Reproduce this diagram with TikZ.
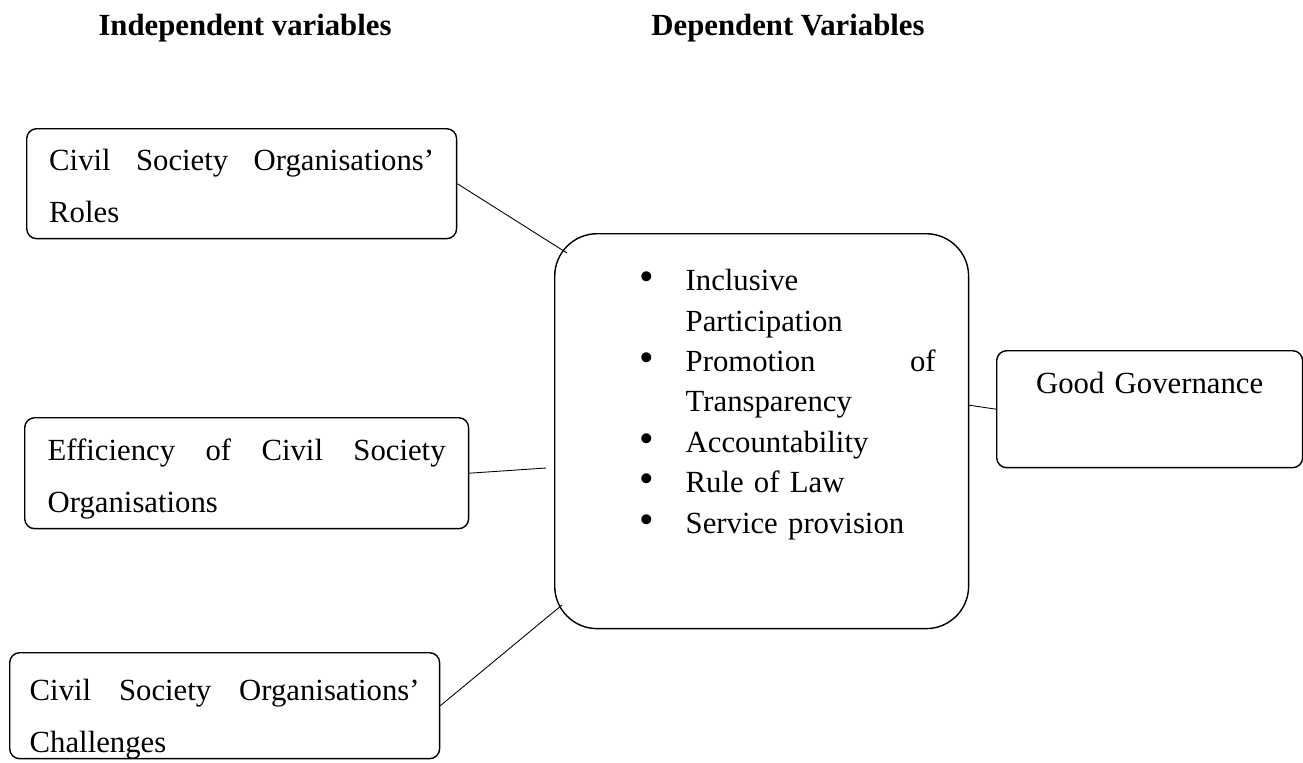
\documentclass[tikz,border=0pt]{standalone}
\usepackage{fontspec}
\setmainfont{Liberation Serif}
\newcommand{\listpt}[1]{\hspace*{1.04cm}\makebox[0.92cm][l]{\scalebox{1.35}{\textbullet}}#1}
\newcommand{\listcont}[1]{\hspace*{1.96cm}#1}
\begin{document}
\begin{tikzpicture}[x=0.02cm, y=-0.02cm, font=\fontsize{17.5pt}{29.6pt}\selectfont,
		head/.style={font=\fontsize{17.5pt}{21pt}\selectfont\bfseries, anchor=base},
		vbox/.style={draw, line width=0.8pt, rounded corners=0.2cm, anchor=north west, inner ysep=0pt, align=left},
		link/.style={line width=0.5pt}]
	\useasboundingbox (0,0) rectangle (1303,762);
	\node[head] (indep) at (245,35) {Independent variables};
	\node[head] (dep) at (788,35) {Dependent Variables};
	\node[vbox, inner xsep=0.45cm, text width=7.7cm, text height=0.84cm, text depth=1.36cm] (roles) at (26,128) {Civil\hfill Society\hfill Organisations’\\Roles};
	\node[vbox, inner xsep=0.46cm, text width=7.96cm, text height=0.86cm, text depth=1.36cm] (effic) at (24,417) {Efficiency\hfill of\hfill Civil\hfill Society\\Organisations};
	\node[vbox, inner xsep=0.4cm, text width=7.8cm, text height=0.96cm, text depth=1.16cm] (chall) at (9,652) {Civil\hfill Society\hfill Organisations’\\Challenges};
	\node[vbox, rounded corners=0.85cm, inner xsep=0.66cm, text width=6.96cm, text height=1.14cm, text depth=6.76cm,
		font=\fontsize{17.5pt}{23pt}\selectfont] (gov) at (554,233) {\listpt{Inclusive}\\\listcont{Participation}\\\listpt{Promotion\hfill of}\\\listcont{Transparency}\\\listpt{Accountability}\\\listpt{Rule of Law}\\\listpt{Service provision}};
	\node[vbox, align=center, inner xsep=0pt, text width=6.12cm, text height=0.86cm, text depth=1.48cm] (good) at (996,350) {Good Governance};
	\coordinate (r1) at (567,253);
	\coordinate (r2) at (546,468);
	\coordinate (r3) at (562,605);
	\coordinate (r4) at (968,405);
	\draw[link] (roles.east)--(r1);
	\draw[link] (effic.east)--(r2);
	\draw[link] (chall.east)--(r3);
	\draw[link] (r4)--(good.west);
\end{tikzpicture}
\end{document}
